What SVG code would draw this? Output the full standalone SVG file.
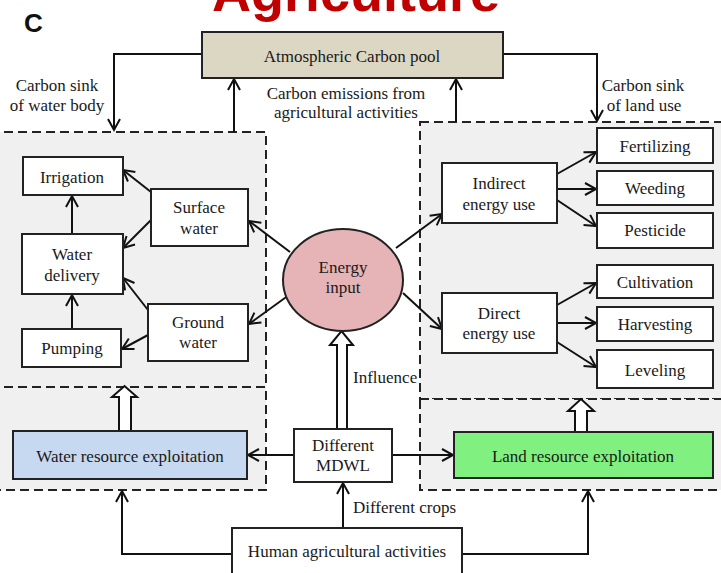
<svg xmlns="http://www.w3.org/2000/svg" width="721" height="573" viewBox="0 0 721 573">
<style>
.t{font-family:"Liberation Serif","Times New Roman",serif;font-size:17px;fill:#1a1a1a;text-anchor:middle}
.ts{font-family:"Liberation Serif","Times New Roman",serif;font-size:17px;fill:#1a1a1a}
.box{fill:#fff;stroke:#222;stroke-width:2}
.zone{fill:#f0f0f0;stroke:#222;stroke-width:2;stroke-dasharray:9 5}
.ln{fill:none;stroke:#111;stroke-width:2;marker-end:url(#ah)}
.hollow{fill:#fff;stroke:#111;stroke-width:2;stroke-linejoin:miter}
</style>
<defs>
<marker id="ah" markerUnits="userSpaceOnUse" markerWidth="14" markerHeight="14" refX="11" refY="6" orient="auto" overflow="visible">
<path d="M0,0 L11,6 L0,12" fill="none" stroke="#111" stroke-width="2"/>
</marker>
</defs>
<rect width="721" height="573" fill="#fff"/>
<text x="356" y="11" font-family="Liberation Sans,Arial,sans-serif" font-weight="bold" font-size="54" fill="#c00000" text-anchor="middle">Agriculture</text>
<text x="24" y="32" font-family="Liberation Sans,Arial,sans-serif" font-weight="bold" font-size="26" fill="#111">C</text>

<g id="zones">
<rect class="zone" x="-10" y="132" width="276" height="255"/>
<rect class="zone" x="-10" y="387" width="276" height="103"/>
<rect class="zone" x="420" y="122" width="320" height="277"/>
<rect class="zone" x="420" y="399" width="320" height="91"/>
</g>

<g id="connectors">
<path class="ln" d="M202,54 H114 V130"/>
<path class="ln" d="M234,132 V79"/>
<path class="ln" d="M456,122 V79"/>
<path class="ln" d="M503,54 H597 V121"/>
<path class="ln" d="M290,252 L249,221"/>
<path class="ln" d="M289,295 L249,324"/>
<path class="ln" d="M396,248 L442,214"/>
<path class="ln" d="M403,293 L442,329"/>
<path class="ln" d="M151,192 L123,170"/>
<path class="ln" d="M151,220 L123,248"/>
<path class="ln" d="M148,310 L123,278"/>
<path class="ln" d="M148,335 L122,349"/>
<path class="ln" d="M72,233 V196"/>
<path class="ln" d="M72,329 V295"/>
<path class="ln" d="M557,174 L596,152"/>
<path class="ln" d="M557,189 H596"/>
<path class="ln" d="M557,200 L596,226"/>
<path class="ln" d="M557,305 L596,283"/>
<path class="ln" d="M557,323 H596"/>
<path class="ln" d="M557,342 L596,367"/>
<path class="ln" d="M294,455 H248"/>
<path class="ln" d="M392,455 H453"/>
<path class="ln" d="M343,528 V483"/>
<path class="ln" d="M232,554 H122 V491"/>
<path class="ln" d="M462,554 H588 V491"/>
<path class="hollow" d="M337,429 V345 H330 L341.5,331 L353,345 H347 V429 Z"/>
<path class="hollow" d="M119,431 V397 H112 L124.5,386 L137,397 H131 V431 Z"/>
<path class="hollow" d="M575,432 V411 H568 L581,399 L594,411 H587 V432 Z"/>
</g>

<g id="atmos">
<rect x="202" y="32" width="301" height="46" fill="#dcd7c3" stroke="#222" stroke-width="2"/>
<text class="t" x="352" y="62">Atmospheric Carbon pool</text>
</g>
<g id="label-sink-water"><text class="t" x="57" y="91">Carbon sink</text><text class="t" x="57" y="111">of water body</text></g>
<g id="label-emissions"><text class="t" x="346" y="99">Carbon emissions from</text><text class="t" x="346" y="118">agricultural activities</text></g>
<g id="label-sink-land"><text class="t" x="643" y="91">Carbon sink</text><text class="t" x="644" y="111">of land use</text></g>

<g id="irrigation"><rect class="box" x="23" y="157" width="100" height="38"/><text class="t" x="72" y="183">Irrigation</text></g>
<g id="water-delivery"><rect class="box" x="22" y="234" width="101" height="60"/><text class="t" x="72" y="260">Water</text><text class="t" x="72" y="281">delivery</text></g>
<g id="pumping"><rect class="box" x="22" y="329" width="99" height="38"/><text class="t" x="72" y="354">Pumping</text></g>
<g id="surface-water"><rect class="box" x="151" y="189" width="97" height="57"/><text class="t" x="199" y="213">Surface</text><text class="t" x="199" y="234">water</text></g>
<g id="ground-water"><rect class="box" x="148" y="304" width="100" height="57"/><text class="t" x="198" y="328">Ground</text><text class="t" x="198" y="348">water</text></g>

<g id="energy"><ellipse cx="343" cy="280" rx="60" ry="51" fill="#e6b4b6" stroke="#222" stroke-width="2"/><text class="t" x="343" y="273">Energy</text><text class="t" x="343" y="293">input</text></g>

<g id="indirect"><rect class="box" x="442" y="163" width="115" height="60"/><text class="t" x="499" y="189">Indirect</text><text class="t" x="499" y="210">energy use</text></g>
<g id="direct"><rect class="box" x="442" y="293" width="115" height="60"/><text class="t" x="499" y="319">Direct</text><text class="t" x="499" y="339">energy use</text></g>

<g id="fertilizing"><rect class="box" x="597" y="128" width="116" height="35"/><text class="t" x="655" y="152">Fertilizing</text></g>
<g id="weeding"><rect class="box" x="597" y="171" width="116" height="34"/><text class="t" x="655" y="194">Weeding</text></g>
<g id="pesticide"><rect class="box" x="597" y="213" width="116" height="35"/><text class="t" x="655" y="236">Pesticide</text></g>
<g id="cultivation"><rect class="box" x="597" y="265" width="116" height="33"/><text class="t" x="655" y="288">Cultivation</text></g>
<g id="harvesting"><rect class="box" x="597" y="307" width="116" height="34"/><text class="t" x="655" y="330">Harvesting</text></g>
<g id="leveling"><rect class="box" x="597" y="350" width="116" height="38"/><text class="t" x="655" y="376">Leveling</text></g>

<g id="label-influence"><text class="ts" x="353" y="383">Influence</text></g>

<g id="water-resource"><rect x="13" y="431" width="234" height="48" fill="#c6d9f0" stroke="#222" stroke-width="2"/><text class="t" x="130" y="462">Water resource exploitation</text></g>
<g id="mdwl"><rect class="box" x="294" y="429" width="98" height="53"/><text class="t" x="343" y="451">Different</text><text class="t" x="343" y="471">MDWL</text></g>
<g id="land-resource"><rect x="454" y="432" width="259" height="46" fill="#80f080" stroke="#222" stroke-width="2"/><text class="t" x="583" y="462">Land resource exploitation</text></g>

<g id="label-crops"><text class="ts" x="353" y="513">Different crops</text></g>
<g id="human"><rect class="box" x="232" y="528" width="230" height="60"/><text class="t" x="347" y="557">Human agricultural activities</text></g>
</svg>
